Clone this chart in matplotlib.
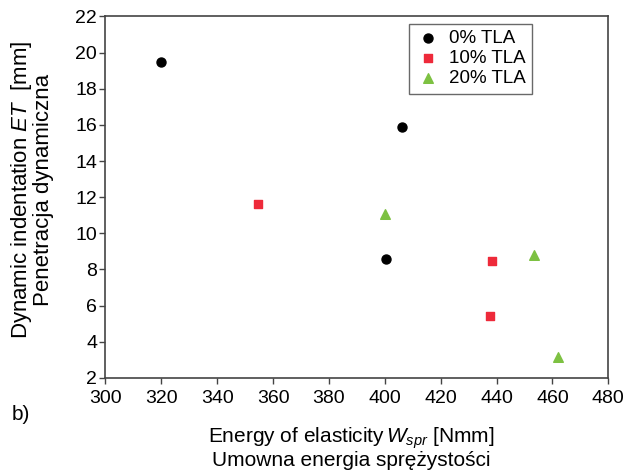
import matplotlib
matplotlib.use('Agg')
import matplotlib.pyplot as plt

plt.rcParams['font.family'] = ['Liberation Sans', 'DejaVu Sans']
plt.rcParams['mathtext.fontset'] = 'custom'
plt.rcParams['mathtext.it'] = 'Liberation Sans:italic'
plt.rcParams['mathtext.rm'] = 'Liberation Sans'

# Dane
x_0 = [320, 406, 400.5]
y_0 = [19.5, 15.9, 8.6]
x_10 = [354.5, 438.5, 437.5]
y_10 = [11.6, 8.45, 5.4]
x_20 = [400, 453.5, 462]
y_20 = [11.05, 8.8, 3.15]

xticks = list(range(300, 481, 20))
yticks = list(range(2, 23, 2))

fig = plt.figure(figsize=(6.35, 4.7), dpi=100)
ax = fig.add_axes([0.166, 0.196, 0.792, 0.769])

ax.scatter(x_0, y_0, marker='o', s=42, color='black', label='0% TLA', zorder=3)
ax.scatter(x_10, y_10, marker='s', s=40, color='#ee2a3a', label='10% TLA', zorder=3)
ax.scatter(x_20, y_20, marker='^', s=48, color='#7dc142', label='20% TLA', zorder=3)

ax.set_xlim(300, 480)
ax.set_ylim(2, 22)
ax.set_xticks(xticks)
ax.set_yticks(yticks)
ax.tick_params(labelsize=14, length=4, width=1, color='#444444', direction='out', pad=2)
ax.tick_params(axis='x', pad=5)
for s in ax.spines.values():
    s.set_color('#444444')
    s.set_linewidth(1.2)

leg = ax.legend(loc='upper right', bbox_to_anchor=(0.848, 0.98), fontsize=13.5,
                frameon=True, fancybox=False, edgecolor='#444444',
                handletextpad=0.4, borderpad=0.35, labelspacing=0.15,
                handlelength=1.35, markerscale=1.0, borderaxespad=0)
leg.get_frame().set_linewidth(1.0)

fig.text(0.05, 0.596, 'Dynamic indentation $ET$  [mm]\nPenetracja dynamiczna',
         rotation=90, ha='center', va='center', fontsize=16, linespacing=0.95)
fig.text(0.553, 0.048, 'Energy of elasticity$\\,W_{spr}$ [Nmm]\nUmowna energia sprężystości',
         ha='center', va='center', fontsize=15, linespacing=1.0)
fig.text(0.018, 0.119, 'b)', ha='left', va='center', fontsize=15)

plt.savefig('out.png', dpi=100)
plt.close(fig)
